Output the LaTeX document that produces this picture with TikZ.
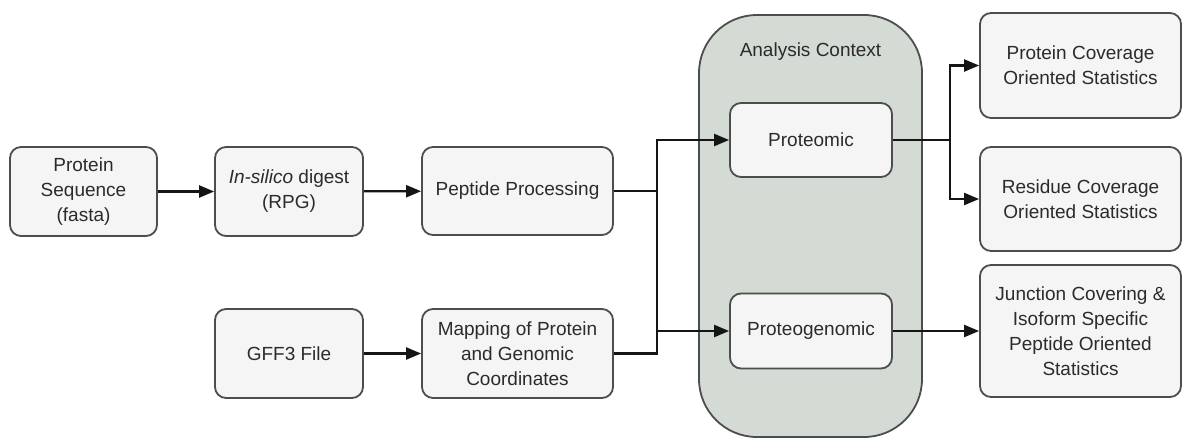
\documentclass[tikz,border=0pt]{standalone}
\usepackage{fontspec}
\setmainfont{Liberation Sans}
\usetikzlibrary{arrows.meta}
\definecolor{boxfill}{HTML}{F5F5F5}
\definecolor{boxdraw}{HTML}{4D4D4D}
\definecolor{ctxfill}{HTML}{D4DAD4}
\definecolor{txt}{HTML}{2B2B2B}
\definecolor{conn}{HTML}{151515}
\tikzset{
  pbox/.style={draw=boxdraw, fill=boxfill, line width=1.8pt, rounded corners=11pt,
    inner sep=0pt, align=center, text=txt, font=\fontsize{19}{25}\selectfont},
  ctxbox/.style={draw=boxdraw, fill=ctxfill, line width=1.8pt, rounded corners=58pt, inner sep=0pt},
  conn/.style={draw=conn, line width=2.2pt, -{Triangle[length=15pt,width=12pt]}},
  plain/.style={draw=conn, line width=2.2pt}
}
\begin{document}
\begin{tikzpicture}[x=1pt,y=-1pt]
\useasboundingbox (0,0) rectangle (1183,439);
% container
\node[ctxbox, minimum width=223pt, minimum height=422pt] (ctx) at (810.5,226) {};
\node[text=txt, font=\fontsize{19}{25}\selectfont] (ctxlabel) at (810.5,52) {Analysis Context};
% boxes
\node[pbox, minimum width=147pt, minimum height=89pt] (ps) at (83.5,191.5) {Protein\\Sequence\\(fasta)};
\node[pbox, minimum width=148pt, minimum height=89pt] (isd) at (289,191.5) {\textit{In-silico} digest\\(RPG)};
\node[pbox, minimum width=191pt, minimum height=88pt] (pp) at (517.5,191) {Peptide Processing};
\node[pbox, minimum width=148pt, minimum height=89pt] (gff) at (289,353.5) {GFF3 File};
\node[pbox, minimum width=191pt, minimum height=89pt] (map) at (517.5,353.5) {Mapping of Protein\\and Genomic\\Coordinates};
\node[pbox, minimum width=162pt, minimum height=74pt] (prot) at (811,140) {Proteomic};
\node[pbox, minimum width=162pt, minimum height=75pt] (pg) at (811,331) {Proteogenomic};
\node[pbox, minimum width=201pt, minimum height=105pt] (pcs) at (1080.5,65.5) {Protein Coverage\\Oriented Statistics};
\node[pbox, minimum width=201pt, minimum height=104pt] (rcs) at (1080.5,199) {Residue Coverage\\Oriented Statistics};
\node[pbox, minimum width=201pt, minimum height=132pt] (jcs) at (1080.5,331) {Junction Covering \&\\Isoform Specific\\Peptide Oriented\\Statistics};
% junction coordinates
\coordinate (jl) at (657,0);
\coordinate (jr) at (950,0);
% connectors
\draw[conn] (ps) -- (isd);
\draw[conn] (isd) -- (pp);
\draw[conn] (gff) -- (map);
\draw[conn] (pp.east) -| (jl |- prot.west) -- (prot.west);
\draw[plain] (pp.east) -| (jl |- pg.west);
\draw[conn] (map.east) -| (jl |- pg.west) -- (pg.west);
\draw[conn] (prot.east) -| (jr |- pcs.west) -- (pcs.west);
\draw[conn] (prot.east) -| (jr |- rcs.west) -- (rcs.west);
\draw[conn] (pg.east) -- (jcs.west |- pg.east);
\end{tikzpicture}
\end{document}
